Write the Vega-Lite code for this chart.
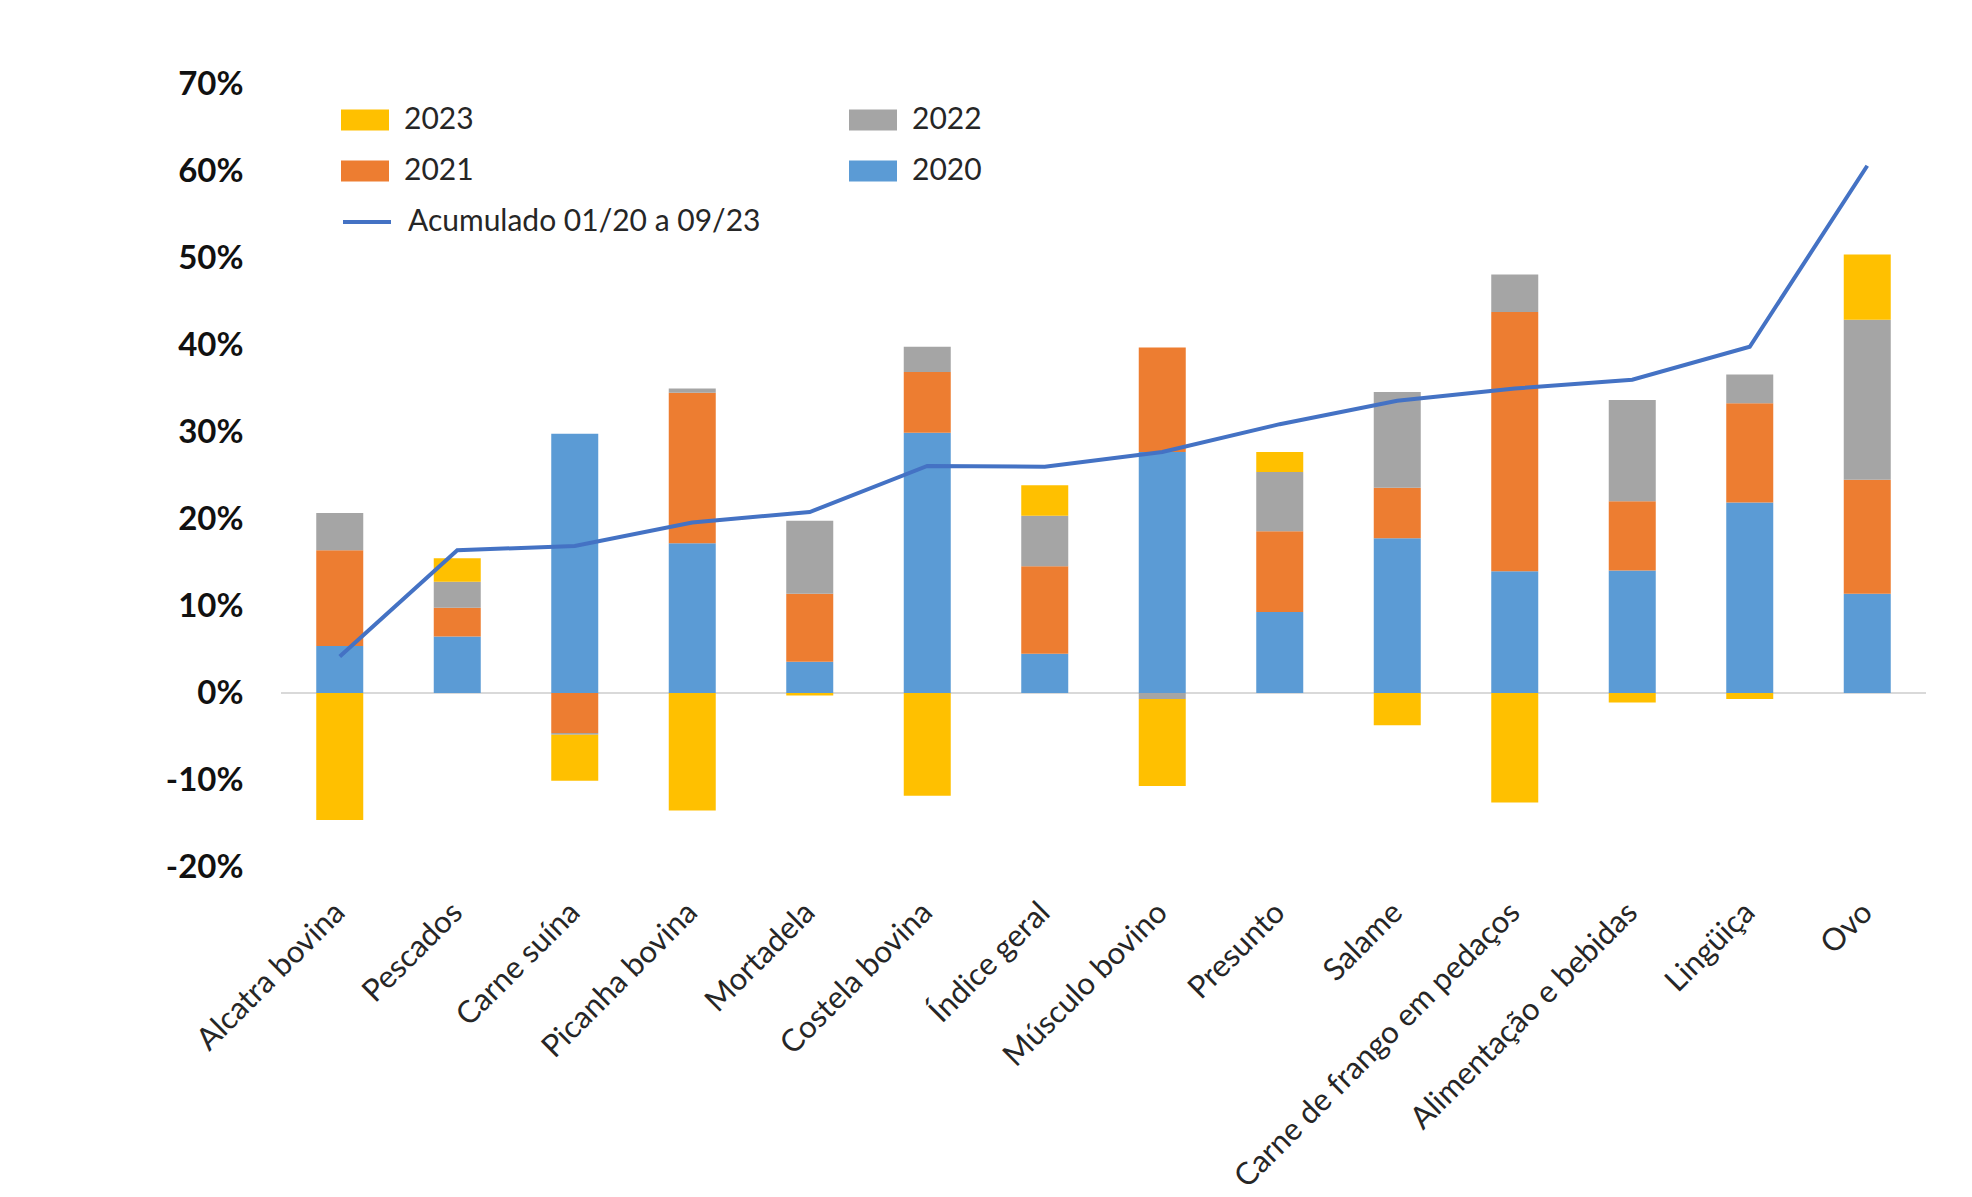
{
  "$schema": "https://vega.github.io/schema/vega-lite/v6.json",
  "autosize": "none",
  "width": 1645,
  "height": 783,
  "padding": {"left": 281, "top": 84, "right": 46, "bottom": 330},
  "background": "white",
  "config": {"font": "Lato", "view": {"stroke": null}},
  "datasets": {
    "barras": [
      {"produto": "Alcatra bovina", "ano": "2020", "ordem": 1, "variacao": 0.054},
      {"produto": "Alcatra bovina", "ano": "2021", "ordem": 2, "variacao": 0.110},
      {"produto": "Alcatra bovina", "ano": "2022", "ordem": 3, "variacao": 0.043},
      {"produto": "Alcatra bovina", "ano": "2023", "ordem": 4, "variacao": -0.146},
      {"produto": "Pescados", "ano": "2020", "ordem": 1, "variacao": 0.065},
      {"produto": "Pescados", "ano": "2021", "ordem": 2, "variacao": 0.033},
      {"produto": "Pescados", "ano": "2022", "ordem": 3, "variacao": 0.030},
      {"produto": "Pescados", "ano": "2023", "ordem": 4, "variacao": 0.027},
      {"produto": "Carne suína", "ano": "2020", "ordem": 1, "variacao": 0.298},
      {"produto": "Carne suína", "ano": "2021", "ordem": 2, "variacao": -0.046},
      {"produto": "Carne suína", "ano": "2022", "ordem": 3, "variacao": -0.002},
      {"produto": "Carne suína", "ano": "2023", "ordem": 4, "variacao": -0.053},
      {"produto": "Picanha bovina", "ano": "2020", "ordem": 1, "variacao": 0.172},
      {"produto": "Picanha bovina", "ano": "2021", "ordem": 2, "variacao": 0.173},
      {"produto": "Picanha bovina", "ano": "2022", "ordem": 3, "variacao": 0.005},
      {"produto": "Picanha bovina", "ano": "2023", "ordem": 4, "variacao": -0.135},
      {"produto": "Mortadela", "ano": "2020", "ordem": 1, "variacao": 0.036},
      {"produto": "Mortadela", "ano": "2021", "ordem": 2, "variacao": 0.078},
      {"produto": "Mortadela", "ano": "2022", "ordem": 3, "variacao": 0.084},
      {"produto": "Mortadela", "ano": "2023", "ordem": 4, "variacao": -0.003},
      {"produto": "Costela bovina", "ano": "2020", "ordem": 1, "variacao": 0.299},
      {"produto": "Costela bovina", "ano": "2021", "ordem": 2, "variacao": 0.070},
      {"produto": "Costela bovina", "ano": "2022", "ordem": 3, "variacao": 0.029},
      {"produto": "Costela bovina", "ano": "2023", "ordem": 4, "variacao": -0.118},
      {"produto": "Índice geral", "ano": "2020", "ordem": 1, "variacao": 0.0452},
      {"produto": "Índice geral", "ano": "2021", "ordem": 2, "variacao": 0.1006},
      {"produto": "Índice geral", "ano": "2022", "ordem": 3, "variacao": 0.0579},
      {"produto": "Índice geral", "ano": "2023", "ordem": 4, "variacao": 0.035},
      {"produto": "Músculo bovino", "ano": "2020", "ordem": 1, "variacao": 0.277},
      {"produto": "Músculo bovino", "ano": "2021", "ordem": 2, "variacao": 0.120},
      {"produto": "Músculo bovino", "ano": "2022", "ordem": 3, "variacao": -0.007},
      {"produto": "Músculo bovino", "ano": "2023", "ordem": 4, "variacao": -0.100},
      {"produto": "Presunto", "ano": "2020", "ordem": 1, "variacao": 0.093},
      {"produto": "Presunto", "ano": "2021", "ordem": 2, "variacao": 0.093},
      {"produto": "Presunto", "ano": "2022", "ordem": 3, "variacao": 0.068},
      {"produto": "Presunto", "ano": "2023", "ordem": 4, "variacao": 0.023},
      {"produto": "Salame", "ano": "2020", "ordem": 1, "variacao": 0.178},
      {"produto": "Salame", "ano": "2021", "ordem": 2, "variacao": 0.058},
      {"produto": "Salame", "ano": "2022", "ordem": 3, "variacao": 0.110},
      {"produto": "Salame", "ano": "2023", "ordem": 4, "variacao": -0.037},
      {"produto": "Carne de frango em pedaços", "ano": "2020", "ordem": 1, "variacao": 0.140},
      {"produto": "Carne de frango em pedaços", "ano": "2021", "ordem": 2, "variacao": 0.298},
      {"produto": "Carne de frango em pedaços", "ano": "2022", "ordem": 3, "variacao": 0.043},
      {"produto": "Carne de frango em pedaços", "ano": "2023", "ordem": 4, "variacao": -0.126},
      {"produto": "Alimentação e bebidas", "ano": "2020", "ordem": 1, "variacao": 0.1409},
      {"produto": "Alimentação e bebidas", "ano": "2021", "ordem": 2, "variacao": 0.0794},
      {"produto": "Alimentação e bebidas", "ano": "2022", "ordem": 3, "variacao": 0.1164},
      {"produto": "Alimentação e bebidas", "ano": "2023", "ordem": 4, "variacao": -0.011},
      {"produto": "Lingüiça", "ano": "2020", "ordem": 1, "variacao": 0.219},
      {"produto": "Lingüiça", "ano": "2021", "ordem": 2, "variacao": 0.114},
      {"produto": "Lingüiça", "ano": "2022", "ordem": 3, "variacao": 0.033},
      {"produto": "Lingüiça", "ano": "2023", "ordem": 4, "variacao": -0.007},
      {"produto": "Ovo", "ano": "2020", "ordem": 1, "variacao": 0.114},
      {"produto": "Ovo", "ano": "2021", "ordem": 2, "variacao": 0.131},
      {"produto": "Ovo", "ano": "2022", "ordem": 3, "variacao": 0.184},
      {"produto": "Ovo", "ano": "2023", "ordem": 4, "variacao": 0.075}
    ],
    "acumulado": [
      {"produto": "Alcatra bovina", "acumulado": 0.042},
      {"produto": "Pescados", "acumulado": 0.164},
      {"produto": "Carne suína", "acumulado": 0.169},
      {"produto": "Picanha bovina", "acumulado": 0.196},
      {"produto": "Mortadela", "acumulado": 0.208},
      {"produto": "Costela bovina", "acumulado": 0.261},
      {"produto": "Índice geral", "acumulado": 0.260},
      {"produto": "Músculo bovino", "acumulado": 0.277},
      {"produto": "Presunto", "acumulado": 0.309},
      {"produto": "Salame", "acumulado": 0.336},
      {"produto": "Carne de frango em pedaços", "acumulado": 0.350},
      {"produto": "Alimentação e bebidas", "acumulado": 0.360},
      {"produto": "Lingüiça", "acumulado": 0.398},
      {"produto": "Ovo", "acumulado": 0.606}
    ]
  },
  "layer": [
    {
      "data": {"name": "acumulado"},
      "mark": {"type": "rule", "color": "#D9D9D9", "strokeWidth": 2},
      "encoding": {"y": {"datum": 0, "type": "quantitative"}}
    },
    {
      "data": {"name": "barras"},
      "mark": {"type": "bar"},
      "encoding": {
        "x": {
          "field": "produto", "type": "nominal",
          "sort": ["Alcatra bovina", "Pescados", "Carne suína", "Picanha bovina", "Mortadela", "Costela bovina", "Índice geral", "Músculo bovino", "Presunto", "Salame", "Carne de frango em pedaços", "Alimentação e bebidas", "Lingüiça", "Ovo"],
          "scale": {"paddingInner": 0.6, "paddingOuter": 0.3},
          "axis": {"title": null, "labelAngle": -45, "labelFontSize": 31, "labelColor": "#262626", "domain": false, "ticks": false, "labelPadding": 30, "labelOffset": -10, "labelLimit": 600}
        },
        "y": {
          "field": "variacao", "type": "quantitative", "stack": "zero",
          "scale": {"domain": [-0.2, 0.7], "nice": false},
          "axis": {"title": null, "values": [-0.2, -0.1, 0, 0.1, 0.2, 0.3, 0.4, 0.5, 0.6, 0.7], "labelExpr": "round(datum.value * 100) + '%'", "labelFontSize": 33, "labelFontWeight": "bold", "labelColor": "#111111", "domain": false, "ticks": false, "grid": false, "labelPadding": 38}
        },
        "color": {
          "field": "ano", "type": "nominal",
          "scale": {"domain": ["2023", "2021", "2022", "2020"], "range": ["#FFC000", "#ED7D31", "#A5A5A5", "#5B9BD5"]},
          "legend": {"orient": "none", "legendX": 60, "legendY": 12, "columns": 2, "title": null, "symbolType": "M-1,-0.44H1V0.44H-1Z", "symbolSize": 2304, "symbolStrokeWidth": 0, "labelFontSize": 30, "labelColor": "#262626", "labelOffset": 15, "columnPadding": 375, "rowPadding": 12}
        },
        "order": {"field": "ordem", "type": "quantitative", "sort": "ascending"}
      }
    },
    {
      "data": {"name": "acumulado"},
      "mark": {"type": "line", "strokeWidth": 4},
      "encoding": {
        "x": {"field": "produto", "type": "nominal", "sort": ["Alcatra bovina", "Pescados", "Carne suína", "Picanha bovina", "Mortadela", "Costela bovina", "Índice geral", "Músculo bovino", "Presunto", "Salame", "Carne de frango em pedaços", "Alimentação e bebidas", "Lingüiça", "Ovo"]},
        "y": {"field": "acumulado", "type": "quantitative"},
        "stroke": {
          "datum": "Acumulado 01/20 a 09/23", "type": "nominal",
          "scale": {"range": ["#4472C4"]},
          "legend": {"orient": "none", "legendX": 60, "legendY": 112, "title": null, "symbolType": "stroke", "symbolSize": 2304, "symbolStrokeWidth": 4, "labelFontSize": 30, "labelColor": "#262626", "labelOffset": 15, "labelLimit": 600}
        }
      }
    }
  ]
}
